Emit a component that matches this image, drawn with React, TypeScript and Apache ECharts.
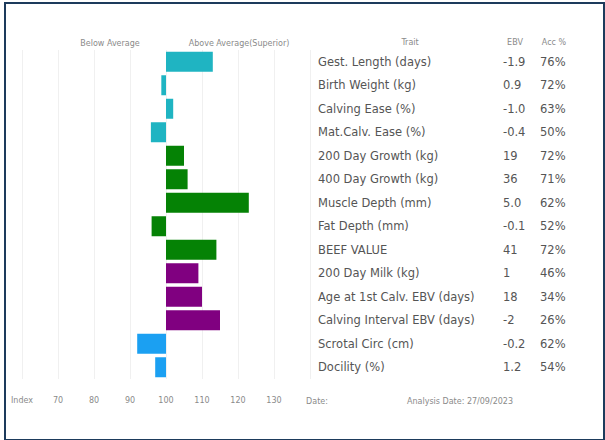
import React, { useEffect, useRef } from "react";
import * as echarts from "echarts";

const traits = [
  "Gest. Length (days)",
  "Birth Weight (kg)",
  "Calving Ease (%)",
  "Mat.Calv. Ease (%)",
  "200 Day Growth (kg)",
  "400 Day Growth (kg)",
  "Muscle Depth (mm)",
  "Fat Depth (mm)",
  "BEEF VALUE",
  "200 Day Milk (kg)",
  "Age at 1st Calv. EBV (days)",
  "Calving Interval EBV (days)",
  "Scrotal Circ (cm)",
  "Docility (%)",
];
const ebvValues = ["-1.9", "0.9", "-1.0", "-0.4", "19", "36", "5.0", "-0.1", "41", "1", "18", "-2", "-0.2", "1.2"];
const accuracy = [76, 72, 63, 50, 72, 71, 62, 52, 72, 46, 34, 26, 62, 54];
const indexValues = [113, 98.7, 102, 95.8, 105, 106, 123, 96, 114, 109, 110, 115, 92, 97];
const traitGroups = [
  "calving", "calving", "calving", "calving",
  "production", "production", "production", "production", "production",
  "maternal", "maternal", "maternal",
  "other", "other",
];
const groupColors: Record<string, string> = {
  calving: "#1fb4c2",
  production: "#058205",
  maternal: "#800080",
  other: "#1ba0f2",
};
const indexTicks = [70, 80, 90, 100, 110, 120, 130];
const BASE = 100;

export default function App() {
  const ref = useRef<HTMLDivElement>(null);
  useEffect(() => {
    if (!ref.current) return;
    const chart = echarts.init(ref.current, null, { renderer: "svg" });
    const font = "DejaVu Sans";
    const textColor = "#555555";
    const small = { fontSize: 8, fill: "#8a8a8a", fontFamily: font, align: "center", verticalAlign: "middle" };
    chart.setOption({
      animation: false,
      textStyle: { fontFamily: font },
      grid: { left: 22, right: 295, top: 50, bottom: 61, containLabel: false },
      xAxis: {
        type: "value",
        min: -40,
        max: 40,
        interval: 10,
        axisLine: { show: false },
        axisTick: { show: false },
        splitLine: { show: true, lineStyle: { color: "#f0f0f0", width: 1 } },
        axisLabel: {
          fontFamily: font,
          fontSize: 8,
          color: "#8a8a8a",
          margin: 17,
          formatter: (v: number) => {
            if (v === -40) return "Index";
            const idx = v + BASE;
            return indexTicks.includes(idx) ? String(idx) : "";
          },
        },
      },
      yAxis: [
        {
          type: "category",
          inverse: true,
          data: traits,
          axisLine: { show: false },
          axisTick: { show: false },
          axisLabel: { show: false },
        },
        {
          type: "category",
          inverse: true,
          position: "right",
          data: traits,
          axisLine: { show: false },
          axisTick: { show: false },
          axisLabel: {
            margin: 8,
            align: "left",
            formatter: (_: string, i: number) =>
              `{n|${traits[i]}}{e|${ebvValues[i]}}{a|${accuracy[i]}%}`,
            rich: {
              n: { width: 185, fontSize: 11.5, color: textColor, fontFamily: font, align: "left" },
              e: { width: 37, fontSize: 11.5, color: textColor, fontFamily: font, align: "left" },
              a: { fontSize: 11.5, color: textColor, fontFamily: font, align: "left" },
            },
          },
        },
      ],
      series: [
        {
          type: "bar",
          yAxisIndex: 0,
          barWidth: 20,
          data: indexValues.map((v, i) => ({
            value: +(v - BASE).toFixed(2),
            itemStyle: { color: groupColors[traitGroups[i]] },
          })),
        },
      ],
      graphic: [
        { type: "text", x: 110, y: 43, style: { ...small, text: "Below Average" } },
        { type: "text", x: 239, y: 43, style: { ...small, text: "Above Average(Superior)" } },
        { type: "text", x: 410, y: 42, style: { ...small, text: "Trait" } },
        { type: "text", x: 515, y: 42, style: { ...small, text: "EBV" } },
        { type: "text", x: 554, y: 42, style: { ...small, text: "Acc %" } },
        { type: "text", x: 317, y: 401, style: { ...small, text: "Date:" } },
        { type: "text", x: 460, y: 401, style: { ...small, text: "Analysis Date: 27/09/2023" } },
      ],
    });
    return () => chart.dispose();
  }, []);
  return (
    <div style={{ position: "fixed", left: 0, top: 0, width: 605, height: 440, background: "#fff" }}>
      <div ref={ref} style={{ position: "absolute", left: 0, top: 0, width: 605, height: 440 }} />
      <div
        style={{
          position: "absolute",
          left: 4,
          top: 2,
          width: 597,
          height: 435,
          border: "2px solid #1d3b5c",
          pointerEvents: "none",
        }}
      />
    </div>
  );
}
